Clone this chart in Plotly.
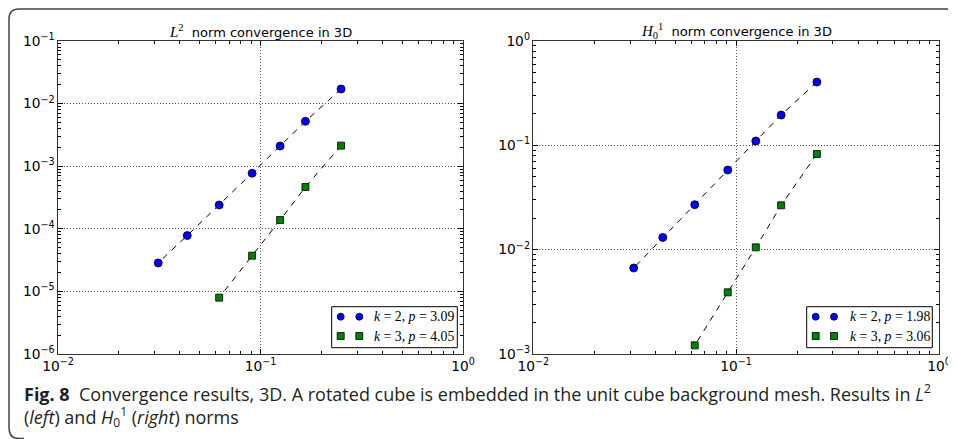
import numpy as np
import plotly.graph_objects as go

# The page body has an 8px default margin; the figure is sized to fill the rest of the window.
OFF = 8
W, H = 956 - OFF, 439 - OFF

# ---------------- data ----------------
h_k2 = [0.25, 1/6, 0.125, 1/11, 0.0625, 1/23, 0.03125]
h_k3 = [0.25, 1/6, 0.125, 1/11, 0.0625]
L2_k2 = [0.0171, 0.00521, 0.0021, 0.00077, 0.00024, 7.8e-5, 2.85e-5]
L2_k3 = [0.00213, 4.65e-4, 1.38e-4, 3.72e-5, 7.94e-6]
H1_k2 = [0.404, 0.195, 0.110, 0.058, 0.0270, 0.0131, 0.00667]
H1_k3 = [0.0826, 0.0266, 0.01052, 0.0039, 0.00121]
k_vals = [2, 3]
p_L2 = ["3.09", "4.05"]
p_H1 = ["1.98", "3.06"]
x_range_exp = [-2, 0]
yL_range_exp = [-6, -1]
yR_range_exp = [-3, 0]
titles = ['<span style="font-family:Liberation Serif;font-size:15px"><i>L</i><sup>2</sup></span>  norm convergence in 3D',
          '<span style="font-family:Liberation Serif;font-size:15px"><i>H</i><sub>0</sub><sup>1</sup></span>  norm convergence in 3D']
caption1 = ('<b>Fig. 8</b>  Convergence results, 3D. A rotated cube is embedded in the unit cube '
            'background mesh. Results in <i>L</i><sup>2</sup>')
caption2 = ('(<i>left</i>) and <i>H</i><sub><span style="font-size:12px">0</span></sub>'
            '<sup><span style="font-size:12px">1</span></sup> (<i>right</i>) norms')


def px(x):
    return (x - OFF) / W


def py(y):
    return 1 - (y - OFF) / H


fig = go.Figure()
line_style = dict(color="black", width=1, dash="6px,6px")
blue = dict(symbol="circle", size=8, color="#0000ff", line=dict(color="black", width=0.8))
green = dict(symbol="square", size=7, color="#008000", line=dict(color="black", width=0.8))

fig.add_trace(go.Scatter(x=h_k2, y=L2_k2, mode="lines+markers", line=line_style, marker=blue,
                         xaxis="x", yaxis="y", showlegend=False))
fig.add_trace(go.Scatter(x=h_k3, y=L2_k3, mode="lines+markers", line=line_style, marker=green,
                         xaxis="x", yaxis="y", showlegend=False))
fig.add_trace(go.Scatter(x=h_k2, y=H1_k2, mode="lines+markers", line=line_style, marker=blue,
                         xaxis="x2", yaxis="y2", showlegend=False))
fig.add_trace(go.Scatter(x=h_k3, y=H1_k3, mode="lines+markers", line=line_style, marker=green,
                         xaxis="x2", yaxis="y2", showlegend=False))

tickfont = dict(family="DejaVu Sans", size=11, color="black")


def axis_common(rng, domain, anchor):
    return dict(type="log", domain=domain, anchor=anchor, range=rng, automargin=False,
                tickmode="linear", tick0=0, dtick=1, exponentformat="power",
                labelalias={"1": "10<sup>0</sup>"},
                ticks="inside", ticklen=5, tickwidth=1, tickcolor="black",
                minor=dict(dtick="D1", ticks="inside", ticklen=3, tickwidth=1,
                           tickcolor="black", showgrid=False),
                showline=True, linecolor="#333", linewidth=1.2, mirror="allticks",
                showgrid=True, gridcolor="#555", griddash="1px,2px", gridwidth=1,
                tickfont=tickfont, zeroline=False)


ydom = [py(354), py(41)]
fig.update_layout(
    width=W, height=H, margin=dict(l=0, r=0, t=0, b=0, autoexpand=False),
    paper_bgcolor="white", plot_bgcolor="white", showlegend=False,
    xaxis=axis_common(x_range_exp, [px(58), px(463)], "y"),
    yaxis=axis_common(yL_range_exp, ydom, "x"),
    xaxis2=axis_common(x_range_exp, [px(533.3), px(939)], "y2"),
    yaxis2=axis_common(yR_range_exp, ydom, "x2"),
)

shapes = []
annotations = []

# titles
for i, (x0, x1) in enumerate([(58, 463), (533.3, 939)]):
    annotations.append(dict(x=px((x0 + x1) / 2), y=py(31), xref="paper", yref="paper",
                            text=titles[i], showarrow=False, xanchor="center", yanchor="middle",
                            font=dict(family="DejaVu Sans", size=13, color="black")))

# legends
for (bx0, bx1, mx1, mx2, tx, plist) in [(331.7, 457.3, 340.7, 359.3, 372.3, p_L2),
                                         (806.7, 932.3, 815.7, 834.0, 848.3, p_H1)]:
    shapes.append(dict(type="rect", xref="paper", yref="paper",
                       x0=px(bx0), x1=px(bx1), y0=py(347.7), y1=py(306.7),
                       fillcolor="white", line=dict(color="black", width=1), layer="below"))
    for j, (ry, mk) in enumerate([(316.7, blue), (336.0, green)]):
        for mx in (mx1, mx2):
            r = 3.5
            shapes.append(dict(type="circle" if mk is blue else "rect", xref="paper", yref="paper",
                               x0=px(mx - r), x1=px(mx + r), y0=py(ry + r), y1=py(ry - r),
                               fillcolor=mk["color"], line=dict(color="black", width=0.8),
                               layer="above"))
        annotations.append(dict(x=px(tx), y=py(ry), xref="paper", yref="paper",
                                text="<i>k</i> = %d, <i>p</i> = %s" % (k_vals[j], plist[j]),
                                showarrow=False, xanchor="left", yanchor="middle",
                                font=dict(family="Liberation Serif", size=13.8, color="black")))
shapes = [s for s in shapes if s["type"] == "rect" and s.get("layer") == "below"] + \
         [s for s in shapes if not (s["type"] == "rect" and s.get("layer") == "below")]
for s in shapes:
    s["layer"] = "above"

# figure frame
frame = ("M {a},{b} L {c},{b} Q {d},{b} {d},{e} L {d},{f} Q {d},{g} {c},{g} L {h},{g}"
         .format(a=px(990), b=py(9), c=px(19), d=px(9), e=py(19), f=py(428), g=py(438.5), h=px(24)))
shapes.append(dict(type="path", xref="paper", yref="paper", path=frame,
                   line=dict(color="#444", width=1.5)))

# caption
capfont = dict(family="Open Sans", size=18, color="#231f20")
annotations.append(dict(x=px(22), y=py(393), xref="paper", yref="paper", text=caption1,
                        showarrow=False, xanchor="left", yanchor="middle", font=capfont))
annotations.append(dict(x=px(22), y=py(417), xref="paper", yref="paper", text=caption2,
                        showarrow=False, xanchor="left", yanchor="middle", font=capfont))

fig.update_layout(shapes=shapes, annotations=annotations)
fig.write_html("out.html")
